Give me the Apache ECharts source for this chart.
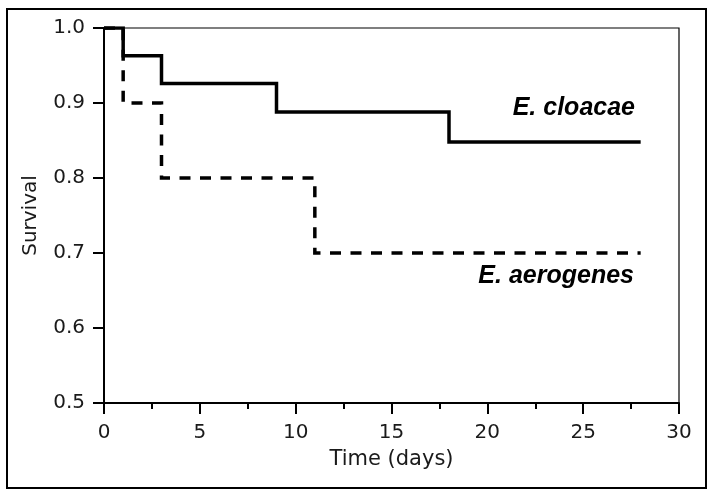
<!DOCTYPE html>
<html>
<head>
<meta charset="utf-8">
<script src="https://cdn.jsdelivr.net/npm/echarts@6/dist/echarts.min.js"></script>
<style>html,body{margin:0;padding:0;background:#fff}#c{width:715px;height:496px}</style>
</head>
<body>
<div id="c"></div>
<script>
// Kaplan-Meier survival steps
const cloacaeTime = [0, 1, 3, 9, 18, 28];
const cloacaeSurv = [1.0, 0.963, 0.926, 0.888, 0.848, 0.848];
const aeroTime = [0, 1, 3, 11, 28];
const aeroSurv = [1.0, 0.9, 0.8, 0.7, 0.7];
const seriesNames = ['E. cloacae', 'E. aerogenes'];
const xTitle = 'Time (days)';
const yTitle = 'Survival';

const chart = echarts.init(document.getElementById('c'), null, {renderer: 'canvas'});
const tickFont = {fontFamily: 'DejaVu Sans', fontSize: 20, color: '#1a1a1a'};
chart.setOption({
  animation: false,
  backgroundColor: '#fff',
  grid: {left: 104, top: 28, right: 36, bottom: 93, show: true, borderColor: '#000', borderWidth: 1.2, backgroundColor: 'transparent'},
  xAxis: {
    type: 'value', min: 0, max: 30, interval: 5,
    name: xTitle, nameLocation: 'middle', nameGap: 46,
    nameTextStyle: {fontFamily: 'DejaVu Sans', fontSize: 21, color: '#1a1a1a'},
    axisLine: {show: true, onZero: false, lineStyle: {color: '#000', width: 2}},
    axisTick: {show: true, length: 11, lineStyle: {color: '#000', width: 2}},
    minorTick: {show: true, splitNumber: 2, length: 6, lineStyle: {color: '#000', width: 2}},
    axisLabel: Object.assign({margin: 20}, tickFont),
    splitLine: {show: false}
  },
  yAxis: {
    type: 'value', min: 0.5, max: 1.0, interval: 0.1,
    name: yTitle, nameLocation: 'middle', nameGap: 63,
    nameTextStyle: {fontFamily: 'DejaVu Sans', fontSize: 20, color: '#1a1a1a'},
    axisLine: {show: true, onZero: false, lineStyle: {color: '#000', width: 2}},
    axisTick: {show: true, length: 11, lineStyle: {color: '#000', width: 2}},
    axisLabel: Object.assign({margin: 19, formatter: v => v.toFixed(1)}, tickFont),
    splitLine: {show: false}
  },
  series: [
    {
      name: seriesNames[0], type: 'line', step: 'end', symbol: 'none',
      data: cloacaeTime.map((t, i) => [t, cloacaeSurv[i]]),
      lineStyle: {color: '#000', width: 3.5, cap: 'butt', join: 'miter'},
      z: 3
    },
    {
      name: seriesNames[1], type: 'line', step: 'end', symbol: 'none',
      data: aeroTime.map((t, i) => [t, aeroSurv[i]]),
      lineStyle: {color: '#000', width: 3.5, type: [11, 9.5], cap: 'butt', join: 'miter'},
      z: 2
    }
  ],
  graphic: [
    {type: 'rect', shape: {x: 7, y: 9, width: 699, height: 479}, style: {fill: 'none', stroke: '#000', lineWidth: 2}, silent: true},
    {type: 'text', x: 635, y: 108, style: {text: seriesNames[0], font: 'italic bold 25px "Liberation Sans"', fill: '#000', textAlign: 'right', textVerticalAlign: 'middle'}},
    {type: 'text', x: 634, y: 276, style: {text: seriesNames[1], font: 'italic bold 25px "Liberation Sans"', fill: '#000', textAlign: 'right', textVerticalAlign: 'middle'}}
  ]
});
</script>
</body>
</html>
